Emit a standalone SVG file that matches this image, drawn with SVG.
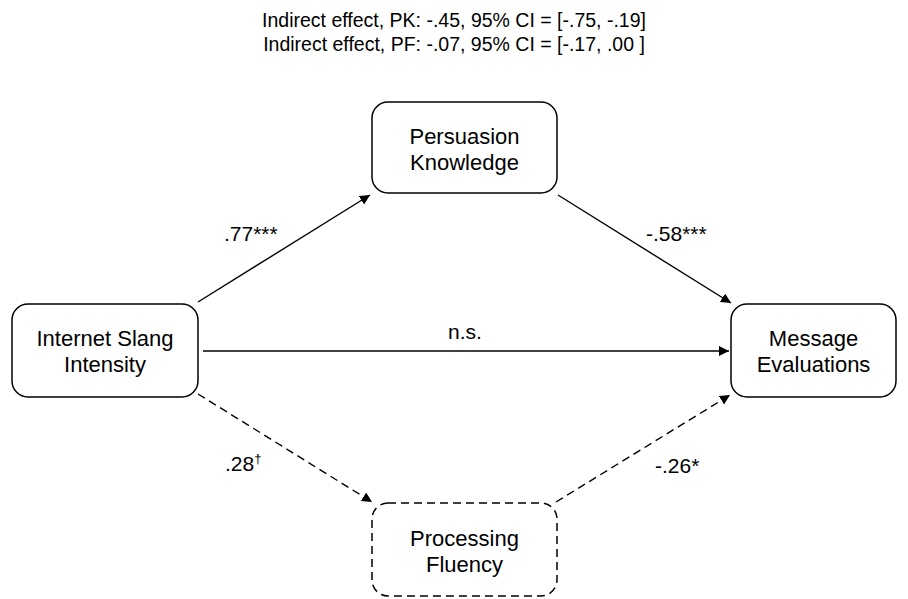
<svg xmlns="http://www.w3.org/2000/svg" width="908" height="599" viewBox="0 0 908 599">
<defs>
<marker id="ah" viewBox="0 0 10 10" refX="10" refY="5" markerWidth="10" markerHeight="10" markerUnits="userSpaceOnUse" orient="auto">
<path d="M0,0 L10,5 L0,10 z" fill="#000"/>
</marker>
<style>
text{font-family:"Liberation Sans",Arial,sans-serif;fill:#000;}
.t{font-size:19.5px;text-anchor:middle;}
.n{font-size:22px;text-anchor:middle;}
.l{font-size:21px;}
.box{fill:#fff;stroke:#000;stroke-width:1.5;}
.dash{stroke-dasharray:8 5;}
.e{stroke:#000;stroke-width:1.4;fill:none;marker-end:url(#ah);}
</style>
</defs>
<rect width="908" height="599" fill="#fff"/>
<g id="title">
<text class="t" x="454" y="27">Indirect effect, PK: -.45, 95% CI = [-.75, -.19]</text>
<text class="t" x="454" y="51">Indirect effect, PF: -.07, 95% CI = [-.17, .00 ]</text>
</g>
<g id="connectors">
<line class="e" x1="198" y1="302" x2="370" y2="195"/>
<line class="e" x1="558" y1="195" x2="731" y2="303"/>
<line class="e" x1="203" y1="351" x2="729" y2="351"/>
<line class="e dash" x1="198" y1="394" x2="372" y2="502"/>
<line class="e dash" x1="556" y1="502" x2="730" y2="395"/>
<text class="l" x="224" y="241">.77***</text>
<text class="l" x="646" y="241">-.58***</text>
<text class="l" x="465" y="339" text-anchor="middle">n.s.</text>
<text class="l" x="225" y="471">.28<tspan font-size="13" dy="-8">†</tspan></text>
<text class="l" x="655" y="473">-.26*</text>
</g>
<g id="pk">
<rect class="box" x="372" y="102" width="185" height="91" rx="16"/>
<text class="n" x="464.5" y="144">Persuasion</text>
<text class="n" x="464.5" y="170">Knowledge</text>
</g>
<g id="is">
<rect class="box" x="12" y="304" width="186" height="93" rx="16"/>
<text class="n" x="105" y="346">Internet Slang</text>
<text class="n" x="105" y="372">Intensity</text>
</g>
<g id="me">
<rect class="box" x="731" y="304" width="165" height="93" rx="16"/>
<text class="n" x="813.5" y="346">Message</text>
<text class="n" x="813.5" y="372">Evaluations</text>
</g>
<g id="pf">
<rect class="box dash" x="372" y="503" width="185" height="93" rx="16"/>
<text class="n" x="464.5" y="546">Processing</text>
<text class="n" x="464.5" y="572">Fluency</text>
</g>
</svg>
